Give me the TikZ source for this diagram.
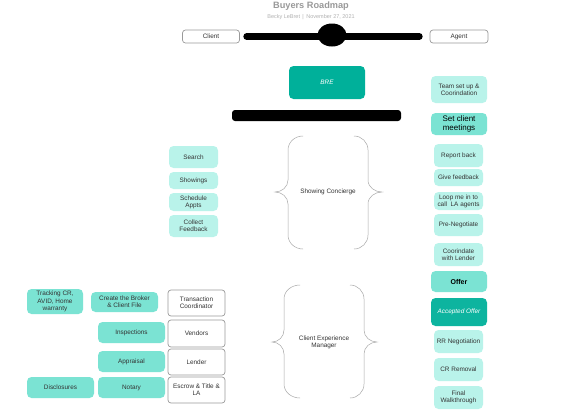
\documentclass[tikz,border=0pt]{standalone}
\usepackage{fontspec}
\setmainfont{Liberation Sans}
\usepackage{tikz}
\usetikzlibrary{positioning,shapes.geometric}

\definecolor{lite}{HTML}{B9F3EA}
\definecolor{mid}{HTML}{7BE3D3}
\definecolor{teal}{HTML}{00B09A}
\definecolor{ink}{HTML}{333333}
\definecolor{edge}{HTML}{9A9A9A}

\tikzset{
  box/.style={rounded corners=4.5pt, align=center, text=ink, inner sep=0pt,
    font=\fontsize{6.4}{7.3}\selectfont},
  litebox/.style={box, fill=lite},
  midbox/.style={box, fill=mid},
  tealbox/.style={box, fill=teal, text=white, font=\fontsize{6.4}{7.3}\selectfont\itshape},
  whitebox/.style={box, fill=white, draw=edge, line width=0.7pt, rounded corners=3pt},
  curl/.style={draw=edge!85, line width=0.5pt},
  bar/.style={line width=6.5pt, line cap=round}
}

\begin{document}
\begin{tikzpicture}[x=1pt, y=-1pt]
\useasboundingbox[fill=white] (0,0) rectangle (563,416);
%title
\node[font=\fontsize{9.2}{10}\selectfont\bfseries, text=black!40] (title) at (311,6.5) {Buyers Roadmap};
\node[font=\fontsize{5.5}{6}\selectfont, text=black!30] (sub) at (311,17) {Becky LeBret \,|\, November 27, 2021};

%top line
\node[whitebox, minimum width=57, minimum height=13] (client) at (211,36.5) {Client};
\node[whitebox, minimum width=58, minimum height=13] (agent) at (459,36.5) {Agent};
\draw[bar, shorten <=6.75pt, shorten >=10.25pt] (client) -- (agent);
\fill (332,35) ellipse [x radius=14.5, y radius=11.5];

%BRE
\node[tealbox, minimum width=76, minimum height=33] (bre) at (327,82.5) {BRE};
\fill[rounded corners=3pt] (232,110) rectangle (401,121);

%agent side
\node[litebox, minimum width=56, minimum height=27] (team) at (459,89.5) {Team set up \&\\Coorindation};
\node[midbox, minimum width=56, minimum height=22, text=black, font=\fontsize{8}{8.5}\selectfont] (meet) at (459,124) {Set client\\meetings};
\node[litebox, minimum width=49, minimum height=23] (report) at (458.5,155.5) {Report back};
\node[litebox, minimum width=49, minimum height=17] (feed) at (458.5,177.5) {Give feedback};
\node[litebox, minimum width=49, minimum height=18] (loop) at (458.5,201) {Loop me in to\\call\ \ LA agents};
\node[litebox, minimum width=49, minimum height=22] (preneg) at (458.5,225) {Pre-Negotiate};
\node[litebox, minimum width=49, minimum height=23] (coord) at (458.5,254.5) {Coorindate\\with Lender};
\node[midbox, minimum width=56, minimum height=21, text=black, font=\fontsize{7}{8}\selectfont\bfseries] (offer) at (459,281.5) {Offer};
\node[tealbox, minimum width=56, minimum height=28, fill=teal!95!white] (accept) at (459,312) {Accepted Offer};
\node[litebox, minimum width=49, minimum height=23] (rr) at (458.5,341.5) {RR Negotiation};
\node[litebox, minimum width=49, minimum height=23] (crr) at (458.5,369.5) {CR Removal};
\node[litebox, minimum width=49, minimum height=23] (walk) at (458.5,397.5) {Final\\Walkthrough};

%showing
\node[litebox, minimum width=49, minimum height=22] (search) at (193.5,157) {Search};
\node[litebox, minimum width=49, minimum height=17] (show) at (193.5,180.5) {Showings};
\node[litebox, minimum width=49, minimum height=18] (sched) at (193.5,202) {Schedule\\Appts};
\node[litebox, minimum width=49, minimum height=22] (collect) at (193.5,226) {Collect\\Feedback};

%1
\draw[curl] (303,136) to[out=180,in=90] (288,150) -- (288,180) to[out=-90,in=0] (275,192) to[out=0,in=90] (288,204) -- (288,235) to[out=-90,in=180] (303,249);
\draw[curl] (354,136) to[out=0,in=90] (368,150) -- (368,180) to[out=-90,in=180] (382,192) to[out=180,in=90] (368,204) -- (368,235) to[out=-90,in=0] (354,249);
\node[box] (concierge) at (328,192) {Showing Concierge};

%2
\draw[curl] (300,285) to[out=180,in=90] (284,299) -- (284,330) to[out=-90,in=0] (272,342) to[out=0,in=90] (284,354) -- (284,384) to[out=-90,in=180] (300,398);
\draw[curl] (350,285) to[out=0,in=90] (364,299) -- (364,330) to[out=-90,in=180] (377,342) to[out=180,in=90] (364,354) -- (364,384) to[out=-90,in=0] (350,398);
\node[box] (cem) at (324,342) {Client Experience\\Manager};

%client side
\node[midbox, minimum width=56, minimum height=25] (track) at (55,301.5) {Tracking CR,\\AVID, Home\\warranty};
\node[midbox, minimum width=67, minimum height=20] (broker) at (124.5,302) {Create the Broker\\\& Client File};
\node[whitebox, minimum width=57, minimum height=26] (tc) at (196.5,303) {Transaction\\Coordinator};
\node[midbox, minimum width=67, minimum height=21] (insp) at (131.5,332.5) {Inspections};
\node[whitebox, minimum width=57, minimum height=27] (vend) at (196.5,333.5) {Vendors};
\node[midbox, minimum width=67, minimum height=21] (appr) at (131.5,361.5) {Appraisal};
\node[whitebox, minimum width=57, minimum height=26] (lend) at (196.5,362) {Lender};
\node[midbox, minimum width=67, minimum height=21] (disc) at (60.5,387.5) {Disclosures};
\node[midbox, minimum width=67, minimum height=21] (notary) at (131.5,387.5) {Notary};
\node[whitebox, minimum width=57, minimum height=26] (escrow) at (196.5,390) {Escrow \& Title \&\\LA};
\end{tikzpicture}
\end{document}
